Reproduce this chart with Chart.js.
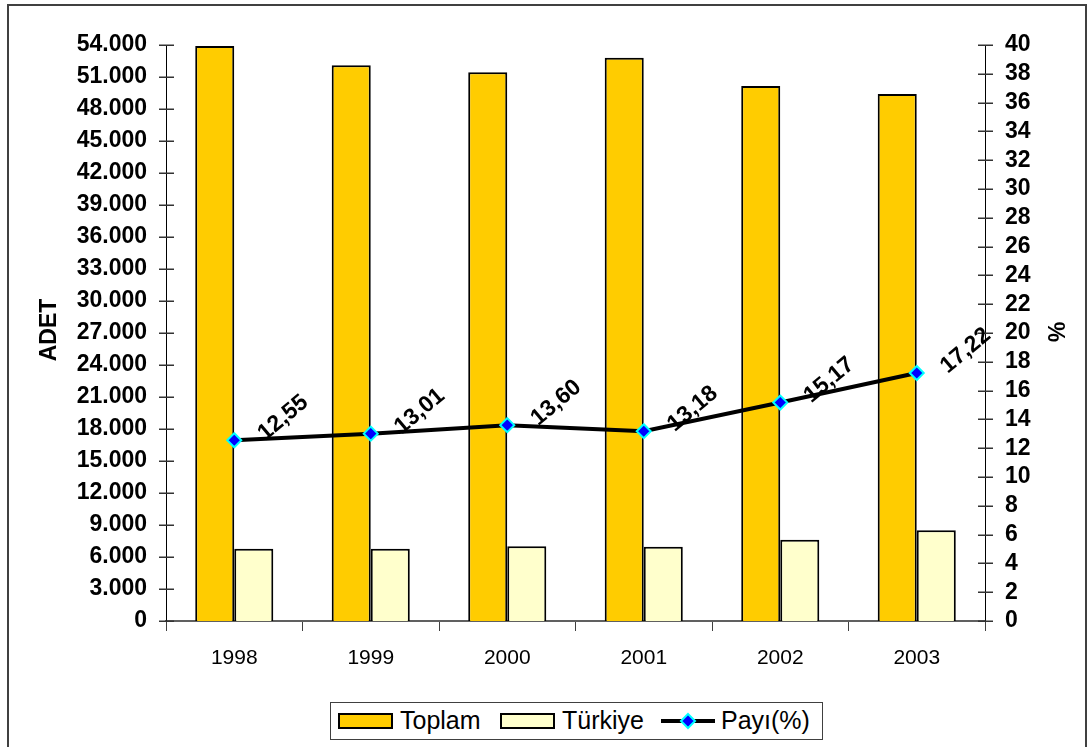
<!DOCTYPE html>
<html>
<head>
<meta charset="utf-8">
<script src="https://cdn.jsdelivr.net/npm/chart.js@4.4.0/dist/chart.umd.min.js"></script>
<style>
  html, body { margin: 0; padding: 0; background: #fff; }
  #wrap { position: relative; width: 1091px; height: 747px; overflow: hidden; }
  #frame { position: absolute; left: 7px; top: 4px; width: 1080px; height: 760px; border: 2px solid #404040; box-sizing: border-box; }
  canvas { position: absolute; left: 0; top: 0; }
  #legend { position: absolute; left: 330px; top: 702px; width: 493px; height: 38px; border: 1px solid #404040;
    box-sizing: border-box; background: #fff; font: 25px "Liberation Sans", Arial, sans-serif; color: #000; }
  .sw { position: absolute; top: 10px; width: 55px; height: 16px; border: 2px solid #000; box-sizing: border-box; }
  .lt { position: absolute; top: 3px; }
</style>
</head>
<body>
<div id="wrap">
  <div id="frame"></div>
  <canvas id="chart" width="1091" height="747"></canvas>
  <div id="legend">
    <div class="sw" style="left:7px;background:#FFCC00"></div>
    <span class="lt" style="left:69px">Toplam</span>
    <div class="sw" style="left:169px;background:#FFFFCC"></div>
    <span class="lt" style="left:231px">Türkiye</span>
    <canvas id="lineSw" width="58" height="36" style="left:328px;top:0"></canvas>
    <span class="lt" style="left:390px">Payı(%)</span>
  </div>
</div>
<script>
const years = ["1998", "1999", "2000", "2001", "2002", "2003"];
const toplam = [53900, 52100, 51450, 52800, 50150, 49400];
const turkiye = [6765, 6778, 6997, 6959, 7608, 8507];
const payi = [12.55, 13.01, 13.60, 13.18, 15.17, 17.22];
const payiLabels = ["12,55", "13,01", "13,60", "13,18", "15,17", "17,22"];
const leftTicks = [0, 3000, 6000, 9000, 12000, 15000, 18000, 21000, 24000, 27000, 30000, 33000, 36000, 39000, 42000, 45000, 48000, 51000, 54000];
const rightTicks = [0, 2, 4, 6, 8, 10, 12, 14, 16, 18, 20, 22, 24, 26, 28, 30, 32, 34, 36, 38, 40];

const FONT = "'Liberation Sans', Arial, sans-serif";

// legend line swatch
(function () {
  const c = document.getElementById("lineSw").getContext("2d");
  c.strokeStyle = "#000";
  c.lineWidth = 4;
  c.beginPath();
  c.moveTo(2, 18);
  c.lineTo(56, 18);
  c.stroke();
  c.beginPath();
  c.moveTo(29, 11); c.lineTo(36, 18); c.lineTo(29, 25); c.lineTo(22, 18); c.closePath();
  c.fillStyle = "#0000FF";
  c.fill();
  c.strokeStyle = "#00FFFF";
  c.lineWidth = 2;
  c.stroke();
})();

const extras = {
  id: "extras",
  afterDraw(chart) {
    const ctx = chart.ctx;
    const yL = chart.scales.y;
    const yR = chart.scales.y1;
    const left = yL.right;
    const right = yR.left;
    ctx.save();
    // tick marks crossing both value axes
    ctx.fillStyle = "#333";
    leftTicks.forEach((v) => {
      const py = Math.round(yL.getPixelForValue(v));
      ctx.fillRect(left - 7, py - 0.5, 15, 1.5);
    });
    rightTicks.forEach((v) => {
      const py = Math.round(yR.getPixelForValue(v));
      ctx.fillRect(right - 7, py - 0.5, 15, 1.5);
    });
    // axis titles
    ctx.fillStyle = "#000";
    ctx.font = "bold 23px " + FONT;
    ctx.textAlign = "center";
    ctx.textBaseline = "middle";
    ctx.save();
    ctx.translate(50, 330);
    ctx.rotate(-Math.PI / 2);
    ctx.fillText("ADET", 0, 0);
    ctx.restore();
    ctx.save();
    ctx.translate(1054, 332);
    ctx.rotate(Math.PI / 2);
    ctx.fillText("%", 0, 0);
    ctx.restore();
    // data labels on the line
    const meta = chart.getDatasetMeta(0);
    ctx.font = "bold 23px " + FONT;
    ctx.textAlign = "left";
    ctx.textBaseline = "alphabetic";
    meta.data.forEach((pt, i) => {
      ctx.save();
      ctx.translate(pt.x + 31, pt.y + 1);
      ctx.rotate(-40 * Math.PI / 180);
      ctx.fillText(payiLabels[i], 0, 0);
      ctx.restore();
    });
    ctx.restore();
  },
};

new Chart(document.getElementById("chart"), {
  type: "bar",
  data: {
    labels: years,
    datasets: [
      {
        type: "line",
        label: "Payı(%)",
        data: payi,
        yAxisID: "y1",
        borderColor: "#000",
        borderWidth: 4,
        pointStyle: "rectRot",
        pointRadius: 7,
        pointBackgroundColor: "#0000FF",
        pointBorderColor: "#00FFFF",
        pointBorderWidth: 2,
        tension: 0,
        order: 0,
      },
      {
        label: "Toplam",
        data: toplam,
        yAxisID: "y",
        backgroundColor: "#FFCC00",
        borderColor: "#000",
        borderWidth: 2,
        borderSkipped: "bottom",
        order: 1,
      },
      {
        label: "Türkiye",
        data: turkiye,
        yAxisID: "y",
        backgroundColor: "#FFFFCC",
        borderColor: "#000",
        borderWidth: 2,
        borderSkipped: "bottom",
        order: 1,
      },
    ],
  },
  options: {
    responsive: false,
    animation: false,
    layout: { padding: { top: 45, left: 0, right: 0, bottom: 0 } },
    datasets: { bar: { categoryPercentage: 0.572, barPercentage: 1 } },
    plugins: { legend: { display: false }, tooltip: { enabled: false } },
    scales: {
      x: {
        grid: { display: true, drawOnChartArea: false, offset: true, tickLength: 10, color: "#404040" },
        border: { color: "#606060", width: 2 },
        ticks: { color: "#000", font: { family: FONT, size: 21 }, padding: 15 },
        afterFit(s) { s.height = 126; },
      },
      y: {
        position: "left",
        min: 0,
        max: 54000,
        afterBuildTicks(s) { s.ticks = leftTicks.map((v) => ({ value: v })); },
        ticks: {
          autoSkip: false,
          color: "#000",
          padding: 19,
          font: { family: FONT, size: 23, weight: "bold" },
          callback: (v) => (v === 0 ? "0" : (v / 1000).toFixed(3)),
        },
        grid: { display: false, drawTicks: false },
        border: { color: "#000", width: 1 },
        afterFit(s) { s.width = 166; },
      },
      y1: {
        position: "right",
        min: 0,
        max: 40,
        afterBuildTicks(s) { s.ticks = rightTicks.map((v) => ({ value: v })); },
        ticks: {
          autoSkip: false,
          color: "#000",
          padding: 20,
          font: { family: FONT, size: 23, weight: "bold" },
        },
        grid: { display: false, drawTicks: false },
        border: { color: "#000", width: 1 },
        afterFit(s) { s.width = 106; },
      },
    },
  },
  plugins: [extras],
});
</script>
</body>
</html>
